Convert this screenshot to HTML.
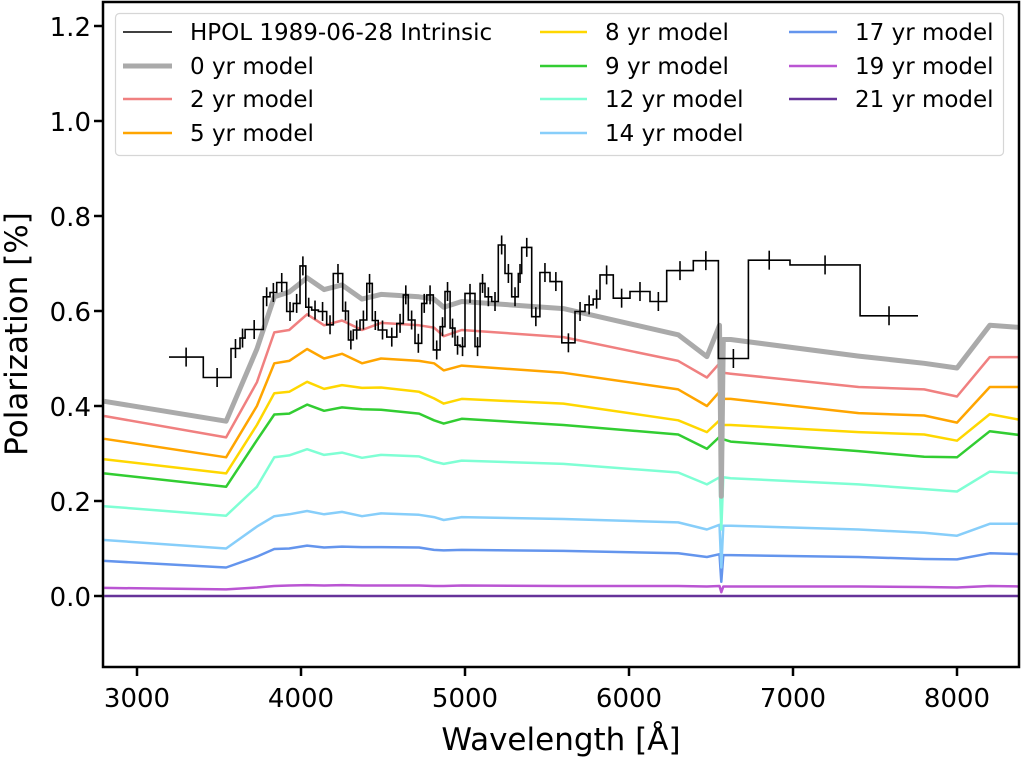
<!DOCTYPE html>
<html><head><meta charset="utf-8">
<style>
html,body{margin:0;padding:0;background:#fff;}
svg{display:block;font-family:"DejaVu Sans","Liberation Sans",sans-serif;}
</style></head>
<body>
<svg id="chart" width="1021" height="757" viewBox="0 0 1021 757" xmlns="http://www.w3.org/2000/svg">
<defs><clipPath id="plotclip"><rect x="103" y="2" width="916" height="665"/></clipPath></defs>
<g id="marks" clip-path="url(#plotclip)"></g>
<g id="axes"></g>
<g id="legend"></g>
</svg>
<script>
// ---- data ----
const xTicks = [3000,4000,5000,6000,7000,8000];
const yTicks = [0.0,0.2,0.4,0.6,0.8,1.0,1.2];
const yTickLabels = ["0.0","0.2","0.4","0.6","0.8","1.0","1.2"];
const hpolEdges = [3195,3404,3573,3628,3659,3770,3811,3852,3913,3953,3994,4029,4065,4106,4157,4197,4254,4289,4319,4360,4401,4435,4471,4523,4584,4624,4654,4695,4736,4767,4807,4848,4878,4909,4939,4970,5000,5061,5092,5122,5163,5203,5244,5285,5325,5346,5407,5457,5518,5590,5671,5732,5782,5823,5904,6006,6128,6230,6392,6545,6728,6982,7409,7762];
const hpolValues = [0.503,0.46,0.521,0.543,0.561,0.63,0.639,0.66,0.599,0.616,0.695,0.608,0.602,0.599,0.571,0.679,0.6,0.539,0.56,0.581,0.658,0.58,0.56,0.545,0.574,0.634,0.581,0.532,0.616,0.634,0.518,0.567,0.641,0.564,0.528,0.525,0.637,0.525,0.658,0.63,0.62,0.739,0.679,0.63,0.679,0.734,0.588,0.681,0.662,0.533,0.599,0.613,0.625,0.676,0.627,0.641,0.62,0.685,0.706,0.5,0.707,0.697,0.59];
const hpolErr = 0.02;
const modelWave = [2800,3543,3731,3837,3928,4037,4141,4250,4372,4488,4720,4811,4870,4980,5600,6300,6475,6552,6563,6575,6620,7400,7800,8000,8200,8400];
const m0  = [0.41,0.368,0.52,0.63,0.64,0.67,0.645,0.655,0.625,0.635,0.63,0.625,0.608,0.62,0.605,0.55,0.504,0.57,0.21,0.54,0.54,0.505,0.49,0.48,0.57,0.565];
const m2  = [0.379,0.334,0.45,0.555,0.56,0.593,0.57,0.58,0.56,0.575,0.57,0.565,0.547,0.56,0.545,0.495,0.46,0.49,0.3,0.47,0.468,0.44,0.435,0.42,0.503,0.503];
const m5  = [0.331,0.292,0.4,0.49,0.495,0.52,0.5,0.51,0.49,0.5,0.495,0.49,0.475,0.485,0.47,0.435,0.4,0.43,0.37,0.415,0.415,0.385,0.38,0.365,0.44,0.44];
const m8  = [0.288,0.258,0.36,0.427,0.43,0.451,0.436,0.444,0.438,0.439,0.43,0.416,0.405,0.415,0.405,0.37,0.345,0.37,0.33,0.36,0.36,0.345,0.34,0.327,0.383,0.37];
const m9  = [0.258,0.23,0.328,0.382,0.384,0.403,0.39,0.397,0.393,0.392,0.384,0.37,0.363,0.373,0.36,0.34,0.31,0.335,0.25,0.33,0.325,0.305,0.293,0.292,0.347,0.338];
const m12 = [0.189,0.169,0.23,0.292,0.296,0.309,0.297,0.302,0.291,0.297,0.294,0.283,0.278,0.285,0.278,0.26,0.235,0.25,0.14,0.25,0.248,0.235,0.225,0.22,0.262,0.258];
const m14 = [0.118,0.1,0.146,0.168,0.172,0.179,0.172,0.177,0.168,0.174,0.171,0.166,0.16,0.166,0.162,0.155,0.14,0.15,0.06,0.148,0.148,0.14,0.133,0.127,0.152,0.152];
const m17 = [0.074,0.06,0.083,0.099,0.1,0.106,0.102,0.104,0.103,0.103,0.102,0.097,0.096,0.097,0.095,0.09,0.082,0.088,0.03,0.086,0.086,0.082,0.078,0.077,0.09,0.088];
const m19 = [0.017,0.014,0.018,0.021,0.022,0.023,0.022,0.023,0.022,0.022,0.022,0.021,0.021,0.022,0.021,0.021,0.02,0.021,0.008,0.02,0.02,0.02,0.019,0.018,0.021,0.02];
const m21 = [0,0,0,0,0,0,0,0,0,0,0,0,0,0,0,0,0,0,0,0,0,0,0,0,0,0];
const seriesNames = ["0 yr model","2 yr model","5 yr model","8 yr model","9 yr model","12 yr model","14 yr model","17 yr model","19 yr model","21 yr model"];
const seriesColors = ["#aaaaaa","#f08080","#ffa500","#ffd700","#32cd32","#7fffd4","#87cefa","#6495ed","#ba55d3","#663399"];
const seriesData = [m0,m2,m5,m8,m9,m12,m14,m17,m19,m21];

// ---- scales ----
const X = w => 137 + (w-3000)*0.164;
const Y = v => 596 - v*475;
const NS = "http://www.w3.org/2000/svg";
function mk(tag, attrs, parent){ const e=document.createElementNS(NS,tag); for(const k in attrs) e.setAttribute(k,attrs[k]); parent.appendChild(e); return e; }
const marks = document.getElementById('marks');
const axes = document.getElementById('axes');
const legend = document.getElementById('legend');

for(let s=seriesData.length-1;s>=0;s--){
  const d = seriesData[s].map((v,i)=>X(modelWave[i]).toFixed(1)+","+Y(v).toFixed(1)).join(" ");
  const pl = mk('polyline',{points:d,fill:'none',stroke:seriesColors[s],'stroke-width':s===0?5:2.5,'stroke-linejoin':'round'},marks);
  
  
}
let pts = [];
for(let i=0;i<hpolValues.length;i++){
  pts.push(X(hpolEdges[i]).toFixed(1)+","+Y(hpolValues[i]).toFixed(1));
  pts.push(X(hpolEdges[i+1]).toFixed(1)+","+Y(hpolValues[i]).toFixed(1));
}
const hp = mk('polyline',{points:pts.join(" "),fill:'none',stroke:'#000','stroke-width':1.6},marks);


for(let i=0;i<hpolValues.length;i++){
  const xc = X((hpolEdges[i]+hpolEdges[i+1])/2);
  const eb = mk('line',{x1:xc,x2:xc,y1:Y(hpolValues[i]+hpolErr),y2:Y(hpolValues[i]-hpolErr),stroke:'#000','stroke-width':1.6},marks);
  
  
}

const fr = mk('rect',{x:103,y:2,width:916,height:665,fill:'none',stroke:'#000','stroke-width':2.5},axes);


xTicks.forEach(t=>{
  const x=X(t);
  mk('line',{x1:x,x2:x,y1:667,y2:676,stroke:'#000','stroke-width':2.5},axes);
  const tx = mk('text',{x:x,y:707,'text-anchor':'middle','font-size':26,fill:'#000'},axes);
  tx.textContent=t;
  
  
});
yTicks.forEach((t,i)=>{
  const y=Y(t);
  mk('line',{x1:94,x2:103,y1:y,y2:y,stroke:'#000','stroke-width':2.5},axes);
  const tx = mk('text',{x:91,y:y+10,'text-anchor':'end','font-size':26,fill:'#000'},axes);
  tx.textContent=yTickLabels[i];
  
  
});
const xt = mk('text',{x:561,y:750,'text-anchor':'middle','font-size':31,fill:'#000'},axes);
xt.textContent='Wavelength [Å]';


const yt = mk('text',{x:0,y:0,'text-anchor':'middle','font-size':31,fill:'#000',transform:'translate(27,334) rotate(-90)'},axes);
yt.textContent='Polarization [%]';



const lb = mk('rect',{x:115.5,y:13.5,width:888,height:142,rx:4,fill:'#fff','fill-opacity':0.85,stroke:'#d6d6d6','stroke-width':1.2},legend);


const entries = [{n:'HPOL 1989-06-28 Intrinsic',c:'#000',w:1.6}].concat(seriesNames.map((n,i)=>({n:n,c:seriesColors[i],w:i===0?5:2.5})));
const colX = [[123,172,190],[540,587,605],[789,837,855]];
const rowY = [32,66,99,133];
entries.forEach((e,i)=>{
  const col = i<4?0:(i<8?1:2);
  const row = i<4?i:(i<8?i-4:i-8);
  const c = colX[col], y=rowY[row];
  const g = mk('g',{},legend);
  
  
  mk('line',{x1:c[0],x2:c[1],y1:y,y2:y,stroke:e.c,'stroke-width':e.w},g);
  const t = mk('text',{x:c[2],y:y+8,'font-size':23,fill:'#000'},g);
  t.textContent=e.n;
});
</script>
</body></html>
